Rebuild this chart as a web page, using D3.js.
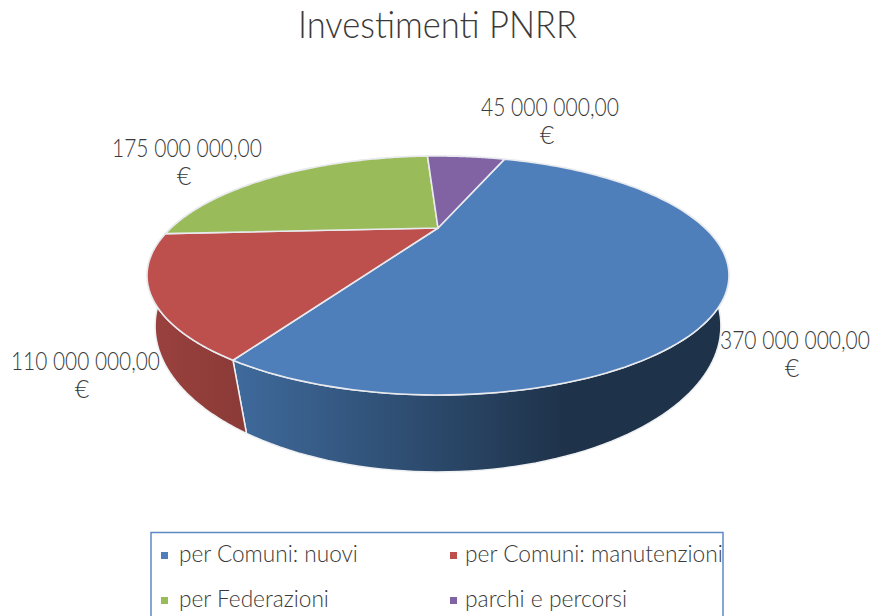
<!DOCTYPE html>
<html>
<head>
<meta charset="utf-8">
<script src="https://cdn.jsdelivr.net/npm/d3@7"></script>
<style>
  html, body { margin: 0; padding: 0; background: #fff; overflow: hidden; }
  text { font-family: Lato, "Open Sans", sans-serif; font-weight: 300; fill: #3a3a3a; }
</style>
</head>
<body>
<svg id="chart" width="873" height="616"></svg>
<script>
const categories = ['per Comuni: nuovi', 'per Comuni: manutenzioni', 'per Federazioni', 'parchi e percorsi'];
const values = [370000000, 110000000, 175000000, 45000000];
const valueLabels = ['370 000 000,00', '110 000 000,00', '175 000 000,00', '45 000 000,00'];
const colors = ['#4f7fbb', '#bd4f4c', '#9abb59', '#8162a2'];
const wallStops = [['#3f6a9c', '#1e3249'], ['#9a413e', '#8a3a37'], ['#7c9647', '#7c9647'], ['#674e82', '#674e82']];

const svg = d3.select('#chart');

// pie angles, first slice starts 20deg clockwise from the back of the disc
const pie = d3.pie().sort(null).startAngle(20 * Math.PI / 180).endAngle(380 * Math.PI / 180);
const arcs = pie(values);

// perspective projection of the unit disc, top and bottom face have their own fit
const faces = {
    top: { b: 0.3975, c: 267, a: 100.6, y0: 228 },
    bottom: { b: 0.35, c: 265, a: 128, y0: 275 },
};
function project(angle, r, face) {
    const f = faces[face];
    const u = r * Math.sin(angle);
    const v = -r * Math.cos(angle);
    const w = 1 - f.b * v;
    return [438 + f.c * u / w, f.y0 + f.a * v / w];
}

function rimPoints(a0, a1, face) {
    return d3.range(0, 121).map((i) => project(a0 + (a1 - a0) * i / 120, 1, face));
}

// the reference text is narrower than Lato, squeeze it horizontally to the measured width
function fitText(sel, xf, yf, wf) {
    sel.each(function (d, i) {
        const sx = wf(d, i) / this.getComputedTextLength();
        d3.select(this).attr('transform', 'translate(' + xf(d, i) + ',' + yf(d, i) + ') scale(' + sx + ',1)');
    });
}

const line = d3.line().curve(d3.curveLinear);
const defs = svg.append('defs');

defs.selectAll('linearGradient')
    .data(wallStops)
    .join('linearGradient')
    .attr('id', (d, i) => 'wall' + i)
    .attr('gradientUnits', 'userSpaceOnUse')
    .attr('x1', (d, i) => (i == 0 ? 235 : 150))
    .attr('x2', (d, i) => (i == 0 ? 570 : 250))
    .attr('y1', 0)
    .attr('y2', 0)
    .selectAll('stop')
    .data((d) => d)
    .join('stop')
    .attr('offset', (d, i) => i)
    .attr('stop-color', (d) => d);

// side walls go first, the top face hides whatever lies behind it
svg.append('g')
    .selectAll('path')
    .data(arcs)
    .join('path')
    .attr('d', (d) => line(rimPoints(d.startAngle, d.endAngle, 'top').concat(rimPoints(d.endAngle, d.startAngle, 'bottom'))) + 'Z')
    .attr('fill', (d, i) => 'url(#wall' + i + ')')
    .attr('stroke', '#eef0f2')
    .attr('stroke-width', 1.5)
    .attr('stroke-linejoin', 'round');

svg.append('g')
    .selectAll('path')
    .data(arcs)
    .join('path')
    .attr('d', (d) => line([project(0, 0, 'top')].concat(rimPoints(d.startAngle, d.endAngle, 'top'))) + 'Z')
    .attr('fill', (d, i) => colors[i])
    .attr('stroke', '#e8eaee')
    .attr('stroke-width', 1.6)
    .attr('stroke-linejoin', 'round');

svg.append('text')
    .attr('font-size', 37)
    .text('Investimenti PNRR')
    .call(fitText, () => 298, () => 38, () => 279);

// data labels: two lines, value and euro sign
const labelPos = [
    { x: 720, w: 150, y: 349, ex: 792 },
    { x: 11, w: 149, y: 370, ex: 82 },
    { x: 112, w: 150, y: 157, ex: 184 },
    { x: 481, w: 138, y: 116, ex: 547 },
];
const labels = svg.append('g').selectAll('g').data(valueLabels).join('g');
labels.append('text')
    .attr('font-size', 25)
    .text((d) => d)
    .call(fitText, (d, i) => labelPos[i].x, (d, i) => labelPos[i].y, (d, i) => labelPos[i].w);
labels.append('text')
    .attr('x', (d, i) => labelPos[i].ex)
    .attr('y', (d, i) => labelPos[i].y + 28)
    .attr('font-size', 25)
    .attr('text-anchor', 'middle')
    .text('€');

// legend, box runs off the bottom of the picture
svg.append('rect')
    .attr('x', 151)
    .attr('y', 532.5)
    .attr('width', 572)
    .attr('height', 100)
    .attr('fill', 'none')
    .attr('stroke', '#5b8ac4')
    .attr('stroke-width', 1.5);

const legendPos = [
    { mx: 161, tx: 179, y: 562, w: 179 },
    { mx: 450, tx: 465, y: 562, w: 258 },
    { mx: 161, tx: 179, y: 607, w: 150 },
    { mx: 450, tx: 465, y: 607, w: 162 },
];
const legend = svg.append('g').selectAll('g').data(categories).join('g');
legend.append('rect')
    .attr('x', (d, i) => legendPos[i].mx)
    .attr('y', (d, i) => legendPos[i].y - 10)
    .attr('width', 7)
    .attr('height', 7)
    .attr('fill', (d, i) => colors[i]);
legend.append('text')
    .attr('font-size', 24)
    .text((d) => d)
    .call(fitText, (d, i) => legendPos[i].tx, (d, i) => legendPos[i].y, (d, i) => legendPos[i].w);
</script>
</body>
</html>
